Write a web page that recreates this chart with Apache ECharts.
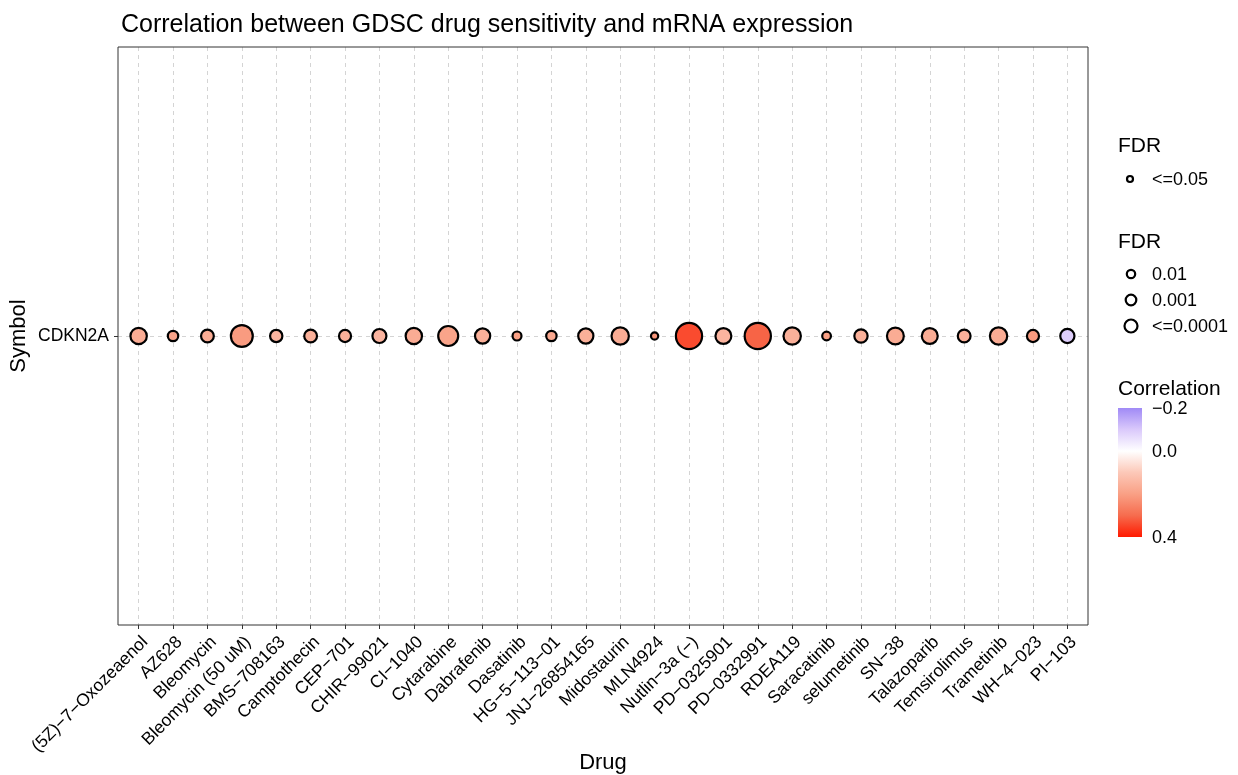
<!DOCTYPE html>
<html>
<head>
<meta charset="utf-8">
<script src="https://cdn.jsdelivr.net/npm/echarts@6/dist/echarts.min.js"></script>
<style>html,body{margin:0;padding:0;background:#fff;}#c{width:1238px;height:775px;}</style>
</head>
<body>
<div id="c"></div>
<script>
var drugs = ['(5Z)\u22127\u2212Oxozeaenol','AZ628','Bleomycin','Bleomycin (50 uM)','BMS\u2212708163','Camptothecin','CEP\u2212701','CHIR\u221299021','CI\u22121040','Cytarabine','Dabrafenib','Dasatinib','HG\u22125\u2212113\u221201','JNJ\u221226854165','Midostaurin','MLN4924','Nutlin\u22123a (\u2212)','PD\u22120325901','PD\u22120332991','RDEA119','Saracatinib','selumetinib','SN\u221238','Talazoparib','Temsirolimus','Trametinib','WH\u22124\u2212023','PI\u2212103'];
var symbols = ['', 'CDKN2A', ''];
var correlation = [0.17,0.19,0.17,0.21,0.15,0.16,0.16,0.15,0.17,0.19,0.16,0.2,0.18,0.16,0.17,0.22,0.34,0.15,0.31,0.16,0.2,0.16,0.17,0.17,0.16,0.17,0.21,-0.09];
var negLog10FDR = [6.0,3.5,4.5,8.3,4.3,4.5,4.2,5.0,6.0,7.5,5.5,2.9,3.5,5.5,6.4,2.2,10.1,5.8,10.1,6.4,2.8,4.7,6.2,5.8,4.5,6.4,4.2,5.1];
var fdrLegend1 = ['<=0.05'];
var fdrLegend2 = ['0.01','0.001','<=0.0001'];
var corrTicks = ['\u22120.2','0.0','0.4'];
var corrTickValues = [-0.2, 0.0, 0.4];
var corrMin = -0.2, corrMax = 0.4;
var colorStops = ['#a08af6','#dac9fb','#ffffff','#fcc8b8','#f9a085','#f66c4e','#ff1a00'];

var FONT = '"Liberation Sans", Arial, sans-serif';
function sizeOf(v){ return 2.4*v + 2; }

var data = drugs.map(function(d,i){ return [i, 1, correlation[i], negLog10FDR[i]]; });

// frame (panel) and data-range geometry (ggplot-like 0.6 expansion)
var fL=118, fT=47, fR=1088, fB=625;
var unit=(fR-fL)/(drugs.length-1+1.2);
var dL=fL+0.6*unit, dR=fR-0.6*unit;

var graphics = [];
function txt(x,y,s,size,align,vAlign,rot){
  var g={type:'text',x:x,y:y,style:{text:s,fill:'#000',font:size+'px '+FONT,textAlign:align||'left',textVerticalAlign:vAlign||'middle'}};
  if(rot){g.rotation=rot;}
  return g;
}
graphics.push(txt(603,763,'Drug',22,'center','middle'));
graphics.push(txt(19,336,'Symbol',22,'center','middle',Math.PI/2));
graphics.push(txt(1118,146,'FDR',21,'left','middle'));
graphics.push({type:'circle',shape:{cx:1130,cy:179,r:3},style:{fill:'#fff',stroke:'#000',lineWidth:2.2}});
graphics.push(txt(1152,180,fdrLegend1[0],18,'left','middle'));
graphics.push(txt(1118,242,'FDR',21,'left','middle'));
var lr=[4.2,5.3,6.5];
var ly=[274,300,326];
for(var k=0;k<fdrLegend2.length;k++){
  graphics.push({type:'circle',shape:{cx:1131,cy:ly[k],r:lr[k]},style:{fill:'#fff',stroke:'#000',lineWidth:2.2}});
  graphics.push(txt(1152,ly[k]+1,fdrLegend2[k],18,'left','middle'));
}
graphics.push(txt(1118,389,'Correlation',21,'left','middle'));
var cbTop=408, cbBot=537;
graphics.push({type:'rect',shape:{x:1118,y:cbTop,width:24,height:cbBot-cbTop},style:{fill:new echarts.graphic.LinearGradient(0,0,0,1,colorStops.map(function(c,i){return {offset:i/(colorStops.length-1),color:c};}))}});
for(var t=0;t<corrTickValues.length;t++){
  var yy=cbTop+(corrTickValues[t]-corrMin)/(corrMax-corrMin)*(cbBot-cbTop);
  graphics.push(txt(1152,yy+1,corrTicks[t],18,'left','middle'));
}

var midOnly = function(idx){ return idx===1; };

var chart = echarts.init(document.getElementById('c'));
chart.setOption({
  animation:false,
  backgroundColor:'#fff',
  title:{text:'Correlation between GDSC drug sensitivity and mRNA expression',left:116,top:8,textStyle:{fontFamily:FONT,fontSize:25,fontWeight:'normal',color:'#000'}},
  grid:[
    {left:fL,top:fT,right:1238-fR,bottom:775-fB,show:true,borderColor:'#333',borderWidth:1,backgroundColor:'transparent',z:3},
    {left:dL,top:fT,right:1238-dR,bottom:775-fB,show:false}
  ],
  xAxis:[
    {gridIndex:0,type:'value',show:false,min:0,max:1},
    {gridIndex:1,type:'category',data:drugs,boundaryGap:false,
     axisLine:{show:false},
     axisTick:{show:true,interval:0,length:4,lineStyle:{color:'#333'}},
     axisLabel:{rotate:45,interval:0,margin:8,align:'right',verticalAlign:'top',fontFamily:FONT,fontSize:17.5,color:'#000'},
     splitLine:{show:true,interval:0,lineStyle:{type:[4,4],color:'#d4d4d4',width:1}}}
  ],
  yAxis:[
    {gridIndex:0,type:'category',data:symbols,boundaryGap:false,
     axisLine:{show:false},
     axisTick:{show:true,interval:midOnly,length:4,lineStyle:{color:'#333'}},
     axisLabel:{interval:midOnly,margin:9,fontFamily:FONT,fontSize:17.5,color:'#000'},
     splitLine:{show:true,interval:midOnly,lineStyle:{type:[4,4],color:'#d4d4d4',width:1}}},
    {gridIndex:1,type:'category',data:symbols,boundaryGap:false,show:false}
  ],
  visualMap:{show:false,type:'continuous',min:corrMin,max:corrMax,dimension:2,seriesIndex:0,inRange:{color:colorStops}},
  series:[{
    type:'scatter',xAxisIndex:1,yAxisIndex:1,
    data:data,
    symbolSize:function(v){return sizeOf(v[3]);},
    itemStyle:{borderColor:'#000',borderWidth:2.2,opacity:1},
    z:5
  }],
  graphic:graphics
});
</script>
</body>
</html>
